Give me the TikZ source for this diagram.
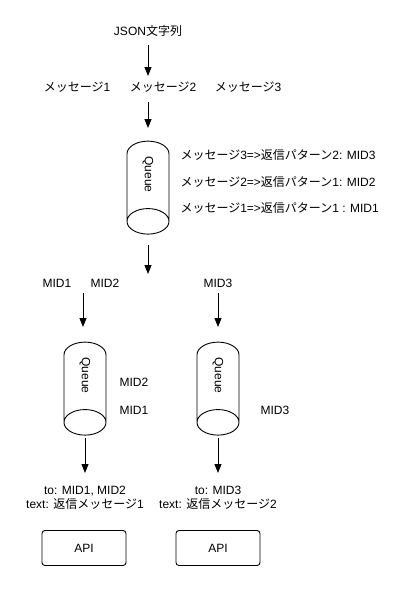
\documentclass[tikz,border=0pt]{standalone}
\usepackage{fontspec}
\setmainfont{Liberation Sans}
\newfontfamily\jpfont{Noto Sans CJK JP}
\newcommand{\ja}[1]{{\jpfont #1}}
\usetikzlibrary{arrows.meta,shapes.geometric,positioning}

\begin{document}
\begin{tikzpicture}[x=1pt,y=-1pt,font=\fontsize{12}{14}\selectfont,
    arr/.style={-{Triangle[length=9pt,width=7pt]},line width=0.9pt},
    queue/.style={cylinder,draw,line width=0.9pt,rotate=-90,aspect=2.4,
        minimum width=42pt,minimum height=93pt,inner sep=0pt},
    api/.style={draw,rounded corners=3pt,line width=0.9pt,
        minimum width=84pt,minimum height=35pt}]
    \useasboundingbox (0,0) rectangle (402,600);

    \node (json) at (148,31) {JSON\ja{文字列}};
    \node (msg_1) at (77,87) {\ja{メッセージ}1};
    \node (msg_2) at (163,87) {\ja{メッセージ}2};
    \node (msg_3) at (248,87) {\ja{メッセージ}3};

    \node[queue] (q_0) at (148,181) {\hspace*{-13pt}Queue};
    \node[right] (r_3) at (177,155) {\ja{メッセージ}3=>\ja{返信パターン}2: MID3};
    \node[right] (r_2) at (177,182) {\ja{メッセージ}2=>\ja{返信パターン}1: MID2};
    \node[right] (r_1) at (177,208) {\ja{メッセージ}1=>\ja{返信パターン}1 : MID1};

    \node (mid_1) at (57,283) {MID1};
    \node (mid_2) at (105,283) {MID2};
    \node (mid_3) at (218,283) {MID3};

    \node[queue] (q_1) at (85,382) {\hspace*{-13pt}Queue};
    \node[queue] (q_2) at (218,382) {\hspace*{-13pt}Queue};
    \node[right] (l_2) at (116,382) {MID2};
    \node[right] (l_1) at (116,410) {MID1};
    \node[right] (l_3) at (257,410) {MID3};

    \node[align=center] (req_1) at (85,498) {to: MID1, MID2\\text: \ja{返信メッセージ}1};
    \node[align=center] (req_2) at (218,498) {to: MID3\\text: \ja{返信メッセージ}2};

    \node[api] (api_1) at (84,548) {API};
    \node[api] (api_2) at (218,548) {API};

    % arrows
    \coordinate (s_1) at (148,45);  \coordinate (e_1) at (148,76);
    \coordinate (s_2) at (148,102); \coordinate (e_2) at (148,128);
    \coordinate (s_3) at (148,245); \coordinate (e_3) at (148,274);
    \coordinate (s_4) at (83,293);  \coordinate (e_4) at (83,327);
    \coordinate (s_5) at (218,293); \coordinate (e_5) at (218,327);
    \coordinate (s_6) at (85,438);  \coordinate (e_6) at (85,473);
    \coordinate (s_7) at (218,438); \coordinate (e_7) at (218,473);
    \foreach \i in {1,...,7}
        \draw[arr] (s_\i) -- (e_\i);
\end{tikzpicture}
\end{document}
